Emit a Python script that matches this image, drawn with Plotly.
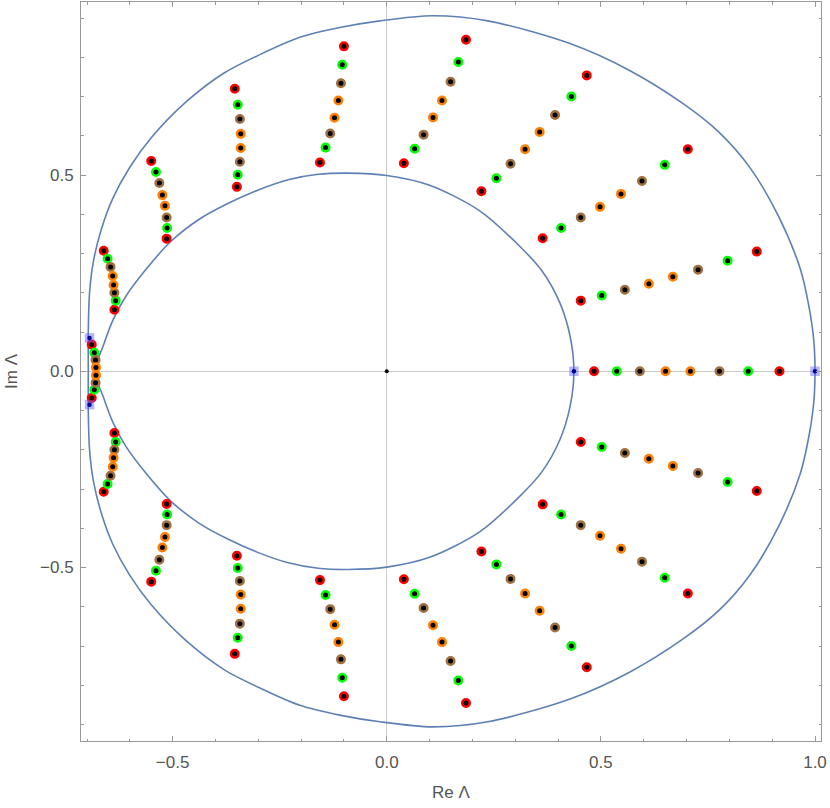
import plotly.graph_objects as go

# ---- boundary curves (upper half; lower half is the mirror image) ----
outer_x = [1.000, 0.997, 0.985, 0.965, 0.915, 0.848, 0.775, 0.692, 0.568, 0.428, 0.236, 0.107,
           -0.016, -0.110, -0.203, -0.300, -0.380, -0.470, -0.550, -0.600, -0.640, -0.667,
           -0.685, -0.694, -0.697, -0.697]
outer_y = [0.000, 0.080, 0.170, 0.263, 0.395, 0.519, 0.610, 0.682, 0.766, 0.835, 0.893, 0.906,
           0.893, 0.876, 0.851, 0.805, 0.760, 0.685, 0.595, 0.520, 0.440, 0.360,
           0.280, 0.200, 0.100, 0.000]

inner_x = [0.437, 0.428, 0.404, 0.363, 0.311, 0.217, 0.100, 0.000, -0.090, -0.160, -0.230,
           -0.300, -0.370, -0.437, -0.505, -0.565, -0.610, -0.640, -0.662, -0.682]
inner_y = [0.000, 0.090, 0.175, 0.255, 0.318, 0.409, 0.474, 0.499, 0.505, 0.502, 0.488,
           0.462, 0.428, 0.388, 0.330, 0.256, 0.190, 0.129, 0.065, 0.000]

# ---- eigenvalue points: one row per ray (upper half incl. real-axis rays), inner -> outer ----
ray_x = [
    [0.484, 0.537, 0.591, 0.651, 0.709, 0.777, 0.844, 0.917],
    [0.453, 0.502, 0.556, 0.612, 0.668, 0.727, 0.796, 0.864],
    [0.364, 0.407, 0.453, 0.498, 0.547, 0.596, 0.649, 0.703],
    [0.221, 0.256, 0.289, 0.323, 0.357, 0.393, 0.431, 0.467],
    [0.040, 0.065, 0.086, 0.108, 0.129, 0.149, 0.167, 0.185],
    [-0.156, -0.143, -0.132, -0.122, -0.113, -0.107, -0.104, -0.100],
    [-0.350, -0.348, -0.343, -0.341, -0.341, -0.343, -0.348, -0.355],
    [-0.514, -0.513, -0.514, -0.518, -0.524, -0.531, -0.539, -0.550],
    [-0.636, -0.633, -0.636, -0.638, -0.640, -0.645, -0.652, -0.661],
    [-0.689, -0.683, -0.680, -0.679, -0.679, -0.680, -0.683, -0.689],
]
ray_y = [
    [0.0, 0.0, 0.0, 0.0, 0.0, 0.0, 0.0, 0.0],
    [0.180, 0.193, 0.208, 0.223, 0.241, 0.259, 0.282, 0.305],
    [0.339, 0.365, 0.392, 0.419, 0.452, 0.485, 0.526, 0.566],
    [0.459, 0.492, 0.529, 0.566, 0.610, 0.653, 0.700, 0.754],
    [0.530, 0.567, 0.603, 0.647, 0.690, 0.738, 0.788, 0.845],
    [0.532, 0.570, 0.606, 0.646, 0.690, 0.734, 0.781, 0.828],
    [0.470, 0.501, 0.534, 0.569, 0.605, 0.643, 0.679, 0.720],
    [0.338, 0.365, 0.392, 0.422, 0.449, 0.480, 0.508, 0.536],
    [0.157, 0.180, 0.200, 0.220, 0.243, 0.266, 0.287, 0.307],
    [0.068, 0.047, 0.029, 0.010, -0.010, -0.029, -0.047, -0.068],
]
self_conjugate = [True, False, False, False, False, False, False, False, False, True]
point_colors = ["red", "green", "brown", "orange", "orange", "brown", "green", "red"]
color_map = {"red": "rgb(255,0,0)", "green": "rgb(0,255,0)",
             "brown": "rgb(160,112,64)", "orange": "rgb(255,128,0)"}

# band end points
end_x = [0.437, 1.000, -0.694, -0.694]
end_y = [0.000, 0.000, 0.085, -0.085]

LINE = "rgb(94,129,181)"
FRAME = "#999999"
TXT = "#555555"
FONT = "Liberation Sans"

fig = go.Figure()

def closed(xs, ys):
    X = xs + xs[::-1][1:]
    Y = ys + [-v for v in ys[::-1][1:]]
    return X, Y

for xs, ys in [(outer_x, outer_y), (inner_x, inner_y)]:
    X, Y = closed(xs, ys)
    fig.add_trace(go.Scatter(x=X, y=Y, mode="lines",
                             line=dict(color=LINE, width=1.6, shape="spline", smoothing=0.85),
                             hoverinfo="skip", showlegend=False))

groups = {c: ([], []) for c in color_map}
for rx, ry, sc in zip(ray_x, ray_y, self_conjugate):
    for j in range(8):
        groups[point_colors[j]][0].append(rx[j])
        groups[point_colors[j]][1].append(ry[j])
        if not sc:
            groups[point_colors[j]][0].append(rx[j])
            groups[point_colors[j]][1].append(-ry[j])

for c, (gx, gy) in groups.items():
    fig.add_trace(go.Scatter(x=gx, y=gy, mode="markers",
                             marker=dict(size=7.5, color="black", line=dict(color=color_map[c], width=2.5)),
                             showlegend=False))

fig.add_trace(go.Scatter(x=end_x, y=end_y, mode="markers",
                         marker=dict(symbol="square", size=9.5, color="rgba(90,90,255,0.45)", line=dict(width=0)),
                         showlegend=False))
fig.add_trace(go.Scatter(x=end_x, y=end_y, mode="markers",
                         marker=dict(size=4.5, color="rgb(0,0,150)"), showlegend=False))
fig.add_trace(go.Scatter(x=[0], y=[0], mode="markers", marker=dict(size=4, color="black"), showlegend=False))

axis_common = dict(
    showgrid=False, zeroline=True, zerolinecolor="#cccccc", zerolinewidth=1,
    showline=True, linecolor=FRAME, linewidth=1, mirror="allticks",
    ticks="inside", ticklen=5, tickcolor=FRAME, tickwidth=1,
    tickfont=dict(family=FONT, size=17, color=TXT), tickformat=".1f",
    dtick=0.5, tick0=0, automargin=False,
    minor=dict(dtick=0.1, ticks="inside", ticklen=2.5, tickcolor=FRAME, showgrid=False),
)

fig.update_layout(
    width=830, height=808,
    margin=dict(l=81, r=9, t=2, b=67),
    paper_bgcolor="white", plot_bgcolor="white",
    xaxis=dict(range=[-0.714, 1.014], ticklabelstandoff=6,
               title=dict(text="Re Λ", font=dict(family=FONT, size=17, color=TXT), standoff=14),
               **axis_common),
    yaxis=dict(range=[-0.942, 0.941], ticklabelstandoff=3,
               title=dict(text="Im Λ", font=dict(family=FONT, size=17, color=TXT), standoff=18),
               **axis_common),
)

fig.write_html("out.html", config={"displayModeBar": False},
               post_script="document.body.style.margin='0px';document.body.style.overflow='hidden';")
